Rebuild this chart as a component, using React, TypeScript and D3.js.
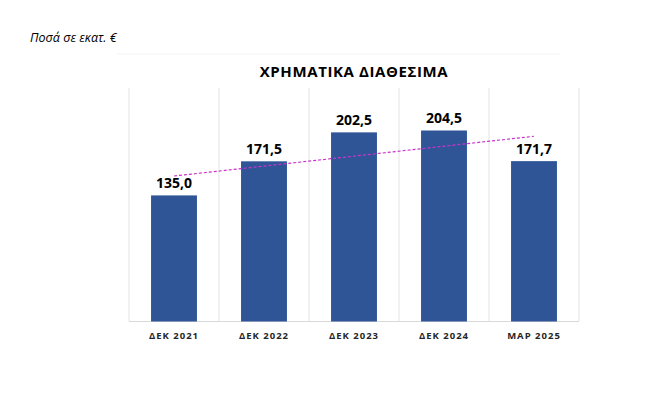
import React from "react";
import * as d3 from "d3";

const categories = ["ΔΕΚ 2021", "ΔΕΚ 2022", "ΔΕΚ 2023", "ΔΕΚ 2024", "ΜΑΡ 2025"];
const values = [135.0, 171.5, 202.5, 204.5, 171.7];
const title = "ΧΡΗΜΑΤΙΚΑ ΔΙΑΘΕΣΙΜΑ";
const note = "Ποσά σε εκατ. €";

const W = 671;
const H = 396;
const left = 129;
const right = 579;
const top = 88;
const bottom = 321.5;

export default function App() {
  const x = d3.scaleBand<string>().domain(categories).range([left, right]).paddingInner(0.49).paddingOuter(0.245);
  const y = d3.scaleLinear().domain([0, 250]).range([bottom, top]);
  const band = (right - left) / categories.length;

  // linear trend
  const n = values.length;
  const xs = values.map((_, i) => i + 1);
  const mx = d3.mean(xs)!;
  const my = d3.mean(values)!;
  const slope = d3.sum(xs.map((xi, i) => (xi - mx) * (values[i] - my))) / d3.sum(xs.map((xi) => (xi - mx) ** 2));
  const intercept = my - slope * mx;
  const cx = (c: string) => x(c)! + x.bandwidth() / 2;
  const trend = d3.line<number>()
    .x((_, i) => cx(categories[i === 0 ? 0 : n - 1]))
    .y((v) => y(v));
  const trendPts = [intercept + slope * 1, intercept + slope * n];

  const font = "Open Sans, Liberation Sans, sans-serif";

  return (
    <svg width={W} height={H} style={{ position: "absolute", left: 0, top: 0, background: "#fff" }}>
      <text x={30} y={42} fontFamily={font} fontStyle="italic" fontSize={12.5} fill="#000">{note}</text>
      <line x1={117} x2={560} y1={54} y2={54} stroke="#f4f4f4" strokeWidth={1} />
      <text x={(left + right) / 2} y={77} textAnchor="middle" fontFamily={font} fontWeight={700} fontSize={15} letterSpacing={0.6} fill="#000">{title}</text>
      {d3.range(categories.length + 1).map((i) => (
        <line key={i} x1={left + i * band} x2={left + i * band} y1={top} y2={bottom} stroke="#e3e3e3" strokeWidth={1} />
      ))}
      <line x1={left} x2={right} y1={bottom} y2={bottom} stroke="#d9d9d9" strokeWidth={1} />
      {categories.map((c, i) => (
        <g key={c}>
          <rect x={x(c)} y={y(values[i])} width={x.bandwidth()} height={bottom - y(values[i])} fill="#2F5597" />
          <text x={cx(c)} y={y(values[i]) - 7} textAnchor="middle" fontFamily={font} fontWeight={700} fontSize={14} fill="#000">
            {values[i].toFixed(1).replace(".", ",")}
          </text>
          <text x={cx(c)} y={339} textAnchor="middle" fontFamily={font} fontWeight={700} fontSize={9.5} letterSpacing={1} fill="#262626">{c}</text>
        </g>
      ))}
      <path d={trend(trendPts) || ""} fill="none" stroke="#CC33CC" strokeWidth={1.2} strokeDasharray="3,2" />
    </svg>
  );
}
